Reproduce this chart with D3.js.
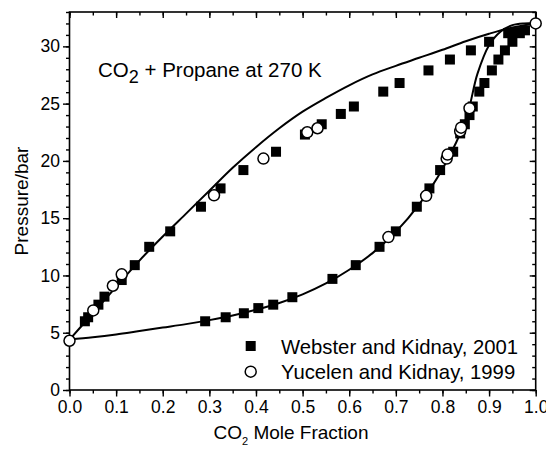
<!DOCTYPE html>
<html>
<head>
<meta charset="utf-8">
<script src="https://cdn.jsdelivr.net/npm/d3@7"></script>
<style>
  body { margin: 0; background: #fff; }
  text { font-family: "Liberation Sans", Arial, sans-serif; fill: #000; }
</style>
</head>
<body>
<svg id="chart" width="546" height="451"></svg>
<script>
// ---- data ----
const websterX = [0.033,0.040,0.062,0.075,0.112,0.140,0.171,0.216,0.282,0.324,0.373,0.443,0.505,0.541,0.582,0.610,0.673,0.708,0.770,0.816,0.861,0.900,0.941,
                  0.291,0.335,0.374,0.405,0.437,0.478,0.564,0.614,0.665,0.700,0.745,0.772,0.795,0.823,0.838,0.848,0.858,0.865,0.879,0.890,0.906,0.920,0.934,0.950,0.956,0.966,0.977];
const websterP = [6.0,6.35,7.45,8.15,9.6,10.9,12.5,13.85,16.0,17.6,19.2,20.8,22.3,23.2,24.1,24.75,26.05,26.8,27.9,28.85,29.65,30.4,31.15,
                  6.0,6.35,6.7,7.15,7.45,8.1,9.7,10.9,12.5,13.85,16.0,17.6,19.2,20.8,22.4,23.2,24.0,24.75,26.05,26.8,27.9,28.85,29.65,30.4,31.25,31.15,31.4];
const yucelenX = [0.0,0.051,0.093,0.112,0.310,0.416,0.510,0.532,0.684,0.765,0.809,0.811,0.838,0.840,0.858,1.0];
const yucelenP = [4.3,6.95,9.1,10.1,17.0,20.2,22.5,22.85,13.35,16.95,20.2,20.55,22.6,22.9,24.6,32.0];
const bubbleX = [0,0.05,0.1,0.15,0.2,0.25,0.3,0.35,0.4,0.45,0.5,0.55,0.6,0.65,0.7,0.75,0.8,0.85,0.9,0.95,1.0];
const bubbleP = [4.4,6.7,9.0,11.3,13.4,15.4,17.4,19.4,21.2,22.85,24.3,25.5,26.6,27.55,28.3,29.0,29.7,30.45,31.1,31.65,32.0];
const dewX = [0,0.05,0.1,0.15,0.2,0.25,0.3,0.35,0.4,0.45,0.5,0.55,0.6,0.65,0.7,0.75,0.8,0.85,0.875,0.9,0.925,0.95,0.975,1.0];
const dewP = [4.4,4.6,4.85,5.15,5.45,5.75,6.1,6.5,7.0,7.6,8.35,9.3,10.5,11.95,13.8,16.2,19.3,23.6,27.6,30.1,31.3,31.85,32.0,32.0];
const xTicks = [0,0.1,0.2,0.3,0.4,0.5,0.6,0.7,0.8,0.9,1.0];
const yTicks = [0,5,10,15,20,25,30];
const legendLabels = ["Webster and Kidnay, 2001", "Yucelen and Kidnay, 1999"];

// ---- layout ----
const svg = d3.select("#chart");
const L = 69.5, R = 535.7, T = 12, B = 390;
const x = d3.scaleLinear().domain([0, 1]).range([L, R]);
const y = d3.scaleLinear().domain([0, 33]).range([B, T]);

const xMinor = d3.range(0, 1.0001, 0.05);
const yMinor = d3.range(0, 33.0001, 1);

function minorAxis(axisFn, scale, vals, size) {
  return axisFn(scale).tickValues(vals).tickSize(size).tickFormat("");
}
const gAx = svg.append("g").attr("class", "axes");
// bottom
gAx.append("g").attr("transform", `translate(0,${B})`).call(minorAxis(d3.axisBottom, x, xMinor, 3.5));
gAx.append("g").attr("transform", `translate(0,${B})`).call(d3.axisBottom(x).tickValues(xTicks).tickSize(6.5).tickPadding(4).tickFormat(d3.format(".1f")));
// top (inward)
gAx.append("g").attr("transform", `translate(0,${T})`).call(minorAxis(d3.axisBottom, x, xMinor, 3.5));
gAx.append("g").attr("transform", `translate(0,${T})`).call(d3.axisBottom(x).tickValues(xTicks).tickSize(6).tickFormat(""));
// left
gAx.append("g").attr("transform", `translate(${L},0)`).call(minorAxis(d3.axisLeft, y, yMinor, 3.5));
gAx.append("g").attr("transform", `translate(${L},0)`).call(d3.axisLeft(y).tickValues(yTicks).tickSize(6.5).tickPadding(3).tickFormat(d3.format("d")));
// right (inward)
gAx.append("g").attr("transform", `translate(${R},0)`).call(minorAxis(d3.axisRight, y, yMinor, -3.5));
gAx.append("g").attr("transform", `translate(${R},0)`).call(d3.axisRight(y).tickValues(yTicks).tickSize(-6).tickFormat(""));

gAx.selectAll(".domain").remove();
gAx.selectAll("line").attr("stroke", "#000").attr("stroke-width", 1.4);
gAx.selectAll("text").attr("font-size", "17.5px").attr("font-family", "Liberation Sans, Arial, sans-serif").attr("fill", "#000");

// frame
svg.append("rect").attr("x", L).attr("y", T).attr("width", R - L).attr("height", B - T)
  .attr("fill", "none").attr("stroke", "#000").attr("stroke-width", 1.6);

// curves
const line = d3.line().x(d => x(d[0])).y(d => y(d[1])).curve(d3.curveCatmullRom.alpha(0.5));
svg.append("path").datum(d3.zip(bubbleX, bubbleP)).attr("d", line)
  .attr("fill", "none").attr("stroke", "#000").attr("stroke-width", 2);
svg.append("path").datum(d3.zip(dewX, dewP)).attr("d", line)
  .attr("fill", "none").attr("stroke", "#000").attr("stroke-width", 2);

// squares
const sq = 10;
svg.append("g").selectAll("rect").data(d3.zip(websterX, websterP)).join("rect")
  .attr("x", d => x(d[0]) - sq / 2).attr("y", d => y(d[1]) - sq / 2)
  .attr("width", sq).attr("height", sq).attr("fill", "#000");
// circles
svg.append("g").selectAll("circle").data(d3.zip(yucelenX, yucelenP)).join("circle")
  .attr("cx", d => x(d[0])).attr("cy", d => y(d[1])).attr("r", 5.5)
  .attr("fill", "#fff").attr("stroke", "#000").attr("stroke-width", 1.5);

// title annotation
const title = svg.append("text").attr("x", 98).attr("y", 77).attr("font-size", "20.5px");
title.append("tspan").text("CO");
title.append("tspan").attr("dy", 6).attr("font-size", "18px").text("2");
title.append("tspan").attr("dy", -6).text(" + Propane at 270 K");

// legend
const legX = 250.7, legY = [346, 371.7];
svg.append("rect").attr("x", legX - sq / 2).attr("y", legY[0] - sq / 2).attr("width", sq).attr("height", sq).attr("fill", "#000");
svg.append("circle").attr("cx", legX).attr("cy", legY[1]).attr("r", 5.5)
  .attr("fill", "#fff").attr("stroke", "#000").attr("stroke-width", 1.5);
legendLabels.forEach((t, i) => {
  svg.append("text").attr("x", 281).attr("y", legY[i] + 7.5).attr("font-size", "20.3px").text(t);
});

// axis titles
const xt = svg.append("text").attr("x", 291).attr("y", 439).attr("text-anchor", "middle").attr("font-size", "19px");
xt.append("tspan").text("CO");
xt.append("tspan").attr("dy", 6).attr("font-size", "11px").text("2");
xt.append("tspan").attr("dy", -6).text(" Mole Fraction");

svg.append("text").attr("transform", `translate(28,${(T + B) / 2}) rotate(-90)`)
  .attr("text-anchor", "middle").attr("font-size", "19px").text("Pressure/bar");
</script>
</body>
</html>
